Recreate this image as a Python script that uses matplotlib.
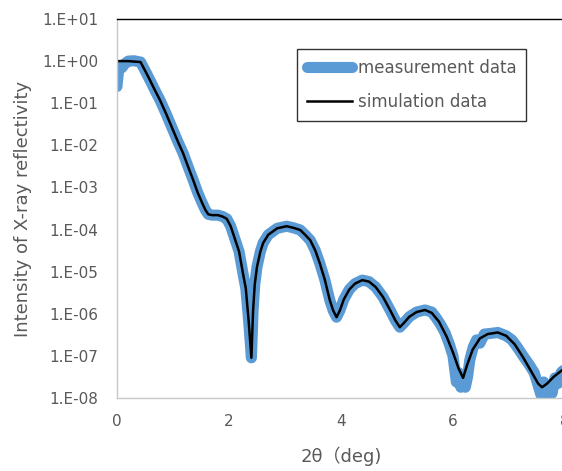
import numpy as np
import matplotlib.pyplot as plt

plt.rcParams['font.family'] = ['DejaVu Sans', 'Noto Sans CJK JP']

# simulation curve (2theta in deg, reflectivity)
sim_x = [0.00, 0.20, 0.42, 0.50, 0.59, 0.68, 0.77, 0.88, 1.00, 1.09, 1.18,
         1.27, 1.36, 1.44, 1.52, 1.58, 1.63, 1.70, 1.80, 1.88, 1.96, 2.03,
         2.10, 2.18, 2.25, 2.30, 2.35, 2.40, 2.43, 2.46, 2.50, 2.56, 2.61,
         2.70, 2.86, 3.03, 3.15, 3.27, 3.36, 3.45, 3.54, 3.62, 3.71, 3.80,
         3.86, 3.92, 3.98, 4.05, 4.15, 4.25, 4.38, 4.50, 4.62, 4.75, 4.88,
         4.97, 5.05, 5.12, 5.22, 5.35, 5.50, 5.62, 5.75, 5.89, 6.00, 6.10,
         6.18, 6.25, 6.35, 6.48, 6.62, 6.80, 6.95, 7.10, 7.25, 7.40, 7.52,
         7.59, 7.68, 7.80, 7.95, 8.00]
sim_y = [1.0, 1.0, 0.95, 0.60, 0.35, 0.20, 0.117, 0.055, 0.023, 0.012, 6.5e-3,
         3.1e-3, 1.5e-3, 7.6e-4, 4.3e-4, 2.9e-4, 2.3e-4, 2.2e-4, 2.2e-4, 2.05e-4, 1.8e-4, 1.2e-4,
         6.3e-5, 3.0e-5, 9.0e-6, 4.0e-6, 7.0e-7, 9.0e-8, 1.2e-6, 5.0e-6, 1.3e-5, 3.0e-5, 4.8e-5,
         7.5e-5, 1.07e-4, 1.2e-4, 1.1e-4, 9.8e-5, 7.5e-5, 5.6e-5, 3.2e-5, 1.6e-5, 6.5e-6, 2.1e-6,
         1.2e-6, 8.3e-7, 1.2e-6, 2.2e-6, 3.8e-6, 5.2e-6, 6.3e-6, 5.8e-6, 4.3e-6, 2.5e-6, 1.2e-6,
         7.0e-7, 4.8e-7, 6.0e-7, 8.5e-7, 1.1e-6, 1.23e-6, 1.05e-6, 6.5e-7, 2.8e-7, 1.2e-7, 5.0e-8,
         3.0e-8, 6.0e-8, 1.4e-7, 2.6e-7, 3.3e-7, 3.6e-7, 3.0e-7, 1.9e-7, 9.3e-8, 4.2e-8, 2.2e-8,
         1.8e-8, 2.2e-8, 3.2e-8, 4.6e-8, 5.0e-8]

# measurement data
meas_x = [0.00, 0.01, 0.03, 0.06, 0.09, 0.13, 0.20, 0.30, 0.42, 0.50, 0.59, 0.68, 0.77,
          0.88, 1.00, 1.09, 1.18, 1.27, 1.36, 1.44, 1.52, 1.58, 1.63, 1.70, 1.80,
          1.88, 1.96, 2.03, 2.10, 2.18, 2.25, 2.30, 2.35, 2.40, 2.43, 2.46, 2.50,
          2.56, 2.61, 2.70, 2.86, 3.03, 3.15, 3.27, 3.36, 3.45, 3.54, 3.62, 3.71,
          3.80, 3.86, 3.92, 3.98, 4.05, 4.15, 4.25, 4.38, 4.50, 4.62, 4.75, 4.88,
          4.97, 5.05, 5.12, 5.22, 5.35, 5.50, 5.62, 5.70, 5.78, 5.86, 5.94, 6.00,
          6.06, 6.10, 6.14, 6.18, 6.22, 6.26, 6.30, 6.36, 6.42, 6.48, 6.56, 6.66,
          6.80, 6.95, 7.05, 7.15, 7.25, 7.35, 7.45, 7.52, 7.57, 7.62, 7.67, 7.72,
          7.77, 7.82, 7.87, 7.93, 8.00]
meas_y = [0.25, 0.35, 0.60, 0.78, 0.70, 0.85, 1.0, 1.02, 0.95, 0.60, 0.35, 0.20, 0.117,
          0.055, 0.023, 0.012, 6.5e-3, 3.1e-3, 1.5e-3, 7.6e-4, 4.3e-4, 2.9e-4, 2.3e-4, 2.2e-4, 2.2e-4,
          2.05e-4, 1.8e-4, 1.2e-4, 6.3e-5, 3.0e-5, 9.0e-6, 4.0e-6, 7.0e-7, 9.0e-8, 1.2e-6, 5.0e-6, 1.3e-5,
          3.0e-5, 4.8e-5, 7.5e-5, 1.07e-4, 1.2e-4, 1.1e-4, 9.8e-5, 7.5e-5, 5.6e-5, 3.2e-5, 1.6e-5, 6.5e-6,
          2.1e-6, 1.2e-6, 8.3e-7, 1.2e-6, 2.2e-6, 3.8e-6, 5.2e-6, 6.3e-6, 5.8e-6, 4.3e-6, 2.5e-6, 1.2e-6,
          7.0e-7, 4.8e-7, 6.0e-7, 8.5e-7, 1.1e-6, 1.23e-6, 1.1e-6, 8.0e-7, 5.5e-7, 3.5e-7, 1.8e-7, 1.0e-7,
          2.4e-8, 4.0e-8, 1.8e-8, 3.6e-8, 1.8e-8, 3.2e-8, 8.0e-8, 1.6e-7, 2.4e-7, 2.0e-7, 3.3e-7, 3.4e-7,
          3.6e-7, 3.0e-7, 2.4e-7, 1.6e-7, 1.0e-7, 6.5e-8, 4.0e-8, 2.0e-8, 1.2e-8, 2.4e-8, 1.1e-8, 2.0e-8,
          1.3e-8, 3.0e-8, 2.2e-8, 4.0e-8, 5.0e-8]

ytick_vals = [1e-8, 1e-7, 1e-6, 1e-5, 1e-4, 1e-3, 1e-2, 1e-1, 1e0, 1e1]
ytick_labels = ['1.E-08', '1.E-07', '1.E-06', '1.E-05', '1.E-04',
                '1.E-03', '1.E-02', '1.E-01', '1.E+00', '1.E+01']
xtick_vals = [0, 2, 4, 6, 8]

grey = '#595959'

fig = plt.figure(figsize=(5.62, 4.71), dpi=100)
ax = fig.add_axes([117 / 562, 73 / 471, 448 / 562, 379 / 471])

ax.plot(meas_x, meas_y, color='#5b9bd5', lw=8, solid_capstyle='round',
        solid_joinstyle='round', label='measurement data')
ax.plot(sim_x, sim_y, color='black', lw=1.8, label='simulation data')

ax.set_yscale('log')
ax.set_ylim(1e-8, 1e1)
ax.set_xlim(0, 8)
ax.set_yticks(ytick_vals)
ax.set_yticklabels(ytick_labels)
ax.minorticks_off()
ax.set_xticks(xtick_vals)
ax.tick_params(length=0, labelsize=11, colors=grey)
ax.tick_params(axis='y', pad=13.5)
ax.tick_params(axis='x', pad=11.5)

for s in ['left', 'bottom']:
    ax.spines[s].set_color('#c8c8c8')
    ax.spines[s].set_linewidth(1.0)
ax.spines['top'].set_color('black')
ax.spines['top'].set_linewidth(1.0)
ax.spines['right'].set_visible(False)

ax.set_xlabel('2θ（deg)', fontsize=13, color=grey, labelpad=13)
ax.set_ylabel('Intensity of X-ray reflectivity', fontsize=13, color=grey, labelpad=7)

leg = ax.legend(loc='upper left', bbox_to_anchor=(0.4018, 0.9208), frameon=True,
                fancybox=False, edgecolor='black', fontsize=12, handlelength=2.7,
                handletextpad=0.35, labelspacing=0.95, borderpad=0.6,
                borderaxespad=0)
leg.get_frame().set_linewidth(1.0)
for t in leg.get_texts():
    t.set_color(grey)

fig.savefig('out.png', dpi=100)
